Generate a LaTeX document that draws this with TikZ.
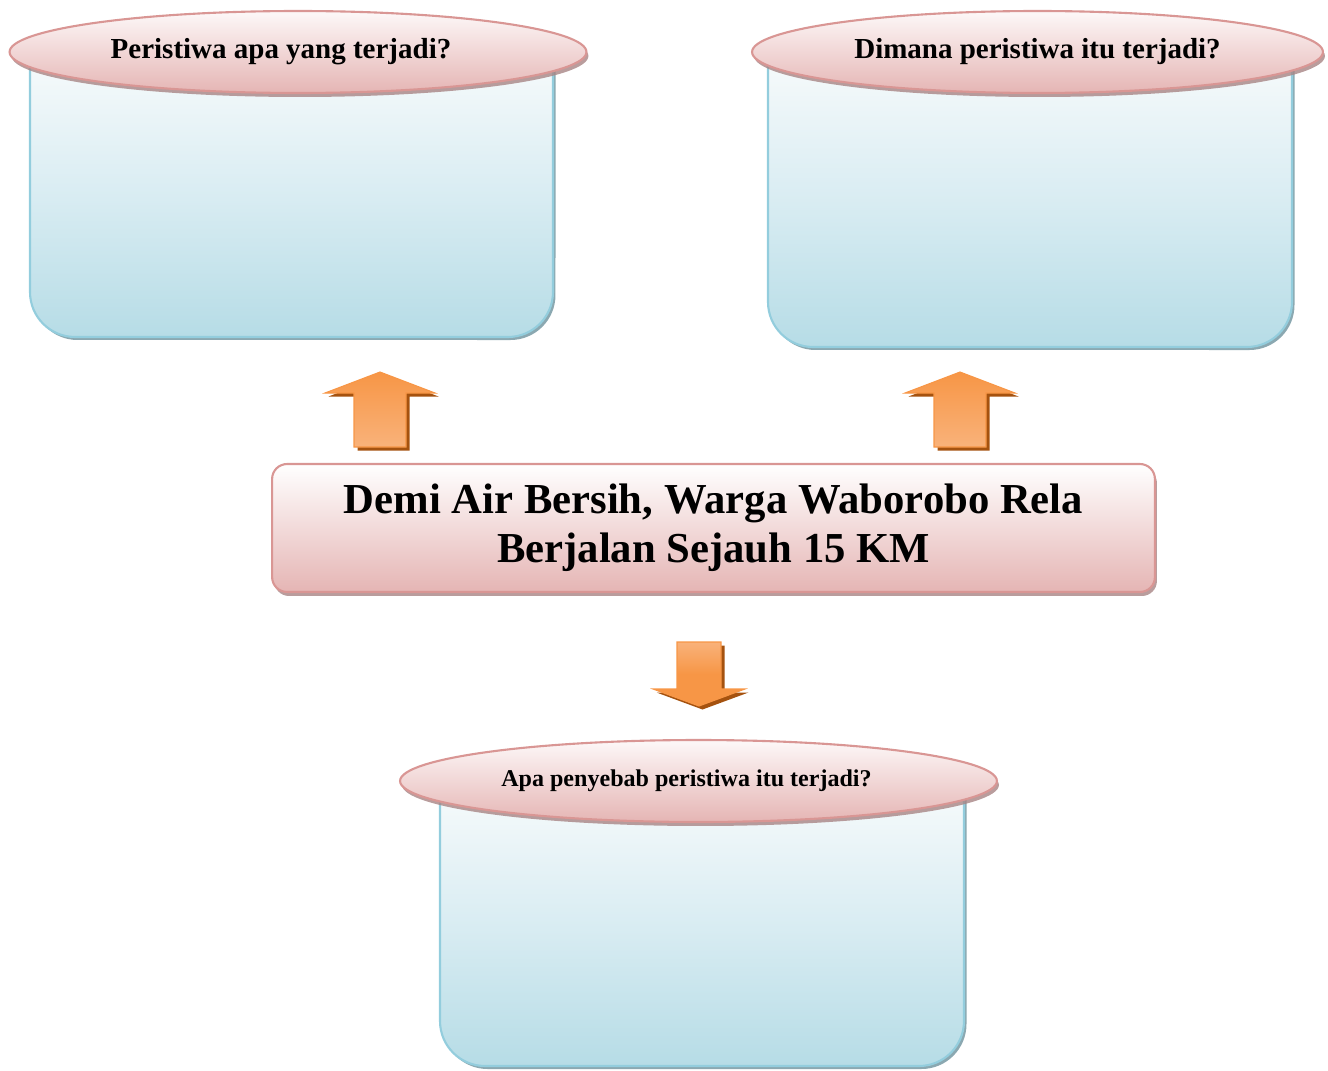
\documentclass[tikz,border=0pt]{standalone}
\usepackage{fontspec}
\setmainfont{Liberation Serif}
\usetikzlibrary{shapes.geometric, shadows}
\definecolor{biru}{HTML}{93CDDD}
\definecolor{birutop}{HTML}{F6FAFB}
\definecolor{birumid}{HTML}{D8ECF2}
\definecolor{birubot}{HTML}{B6DCE6}
\definecolor{birubayang}{HTML}{7E9FA8}
\definecolor{merah}{HTML}{D99694}
\definecolor{merahtop}{HTML}{FDF8F8}
\definecolor{merahbot}{HTML}{E5B5B4}
\definecolor{merahbayang}{HTML}{A88585}
\definecolor{oranye}{HTML}{F79646}
\definecolor{oranyemuda}{HTML}{F9B27A}
\definecolor{coklat}{HTML}{A5520F}
\tikzset{
	kotak/.style={draw=biru, line width=1.2pt, top color=birutop, bottom color=birubot, middle color=birumid,
		drop shadow={shadow xshift=0.05cm, shadow yshift=-0.06cm, fill=birubayang, opacity=0.9}}, % kotak jawaban
	tanya/.style={ellipse, draw=merah, line width=1.2pt, top color=merahtop, bottom color=merahbot,
		minimum height=1.64cm, inner sep=0pt, font=\bfseries\fontsize{16.5}{19}\selectfont,
		drop shadow={shadow xshift=0.04cm, shadow yshift=-0.08cm, fill=merahbayang, opacity=0.8}}, % pertanyaan
	judul/.style={rectangle, rounded corners=0.3cm, draw=merah, line width=1.2pt, top color=white, bottom color=merahbot,
		minimum width=17.66cm, minimum height=2.56cm, align=center, font=\bfseries\fontsize{24.3}{28}\selectfont,
		drop shadow={shadow xshift=0.04cm, shadow yshift=-0.08cm, fill=merahbayang, opacity=0.8}}, % judul berita
	panah/.style={draw=oranye, line width=0.6pt, top color=oranye, middle color=oranye, bottom color=oranyemuda,
		drop shadow={shadow xshift=0.07cm, shadow yshift=-0.07cm, fill=coklat, opacity=1}} % panah tebal
}

\begin{document}
\begin{tikzpicture}[x=0.02cm, y=-0.02cm]
	\useasboundingbox (0,0) rectangle (1328,1071);
	% kotak jawaban
	\foreach \l/\t/\r/\b in {30/60/553/337, 768/60/1292/347, 440/790/964/1066}
		\path[kotak] (\l,\t) -- (\l,\b-45) arc[start angle=180, end angle=270, radius=0.9cm]
			-- (\r-45,\b) arc[start angle=270, end angle=360, radius=0.9cm] -- (\r,\t) -- cycle;
	% pertanyaan
	\node[tanya, minimum width=11.54cm] (apa) at (298,52) {Peristiwa apa yang terjadi?\hspace*{0.68cm}};
	\node[tanya, minimum width=11.42cm] (dimana) at (1037.5,52) {Dimana peristiwa itu terjadi?};
	\node[tanya, minimum width=11.94cm, font=\bfseries\fontsize{13.7}{16}\selectfont] (sebab) at (698.5,781) {Apa penyebab peristiwa itu terjadi?\hspace*{0.48cm}};
	% judul
	\node[judul] (judul) at (713.5,528) {\rule{0pt}{0.4cm}Demi Air Bersih, Warga Waborobo Rela\\Berjalan Sejauh 15 KM};
	% panah ke atas
	\foreach \x in {380,960}
		\path[panah, shift={(\x,372)}] (0,0) -- (55,21) -- (26,21) -- (26,75) -- (-26,75) -- (-26,21) -- (-55,21) -- cycle;
	% panah ke bawah
	\path[panah, top color=oranyemuda, bottom color=oranye, middle color=oranye, shift={(699,706)}]
		(0,0) -- (-46,-17) -- (-22,-17) -- (-22,-64) -- (22,-64) -- (22,-17) -- (46,-17) -- cycle;
\end{tikzpicture}
\end{document}
